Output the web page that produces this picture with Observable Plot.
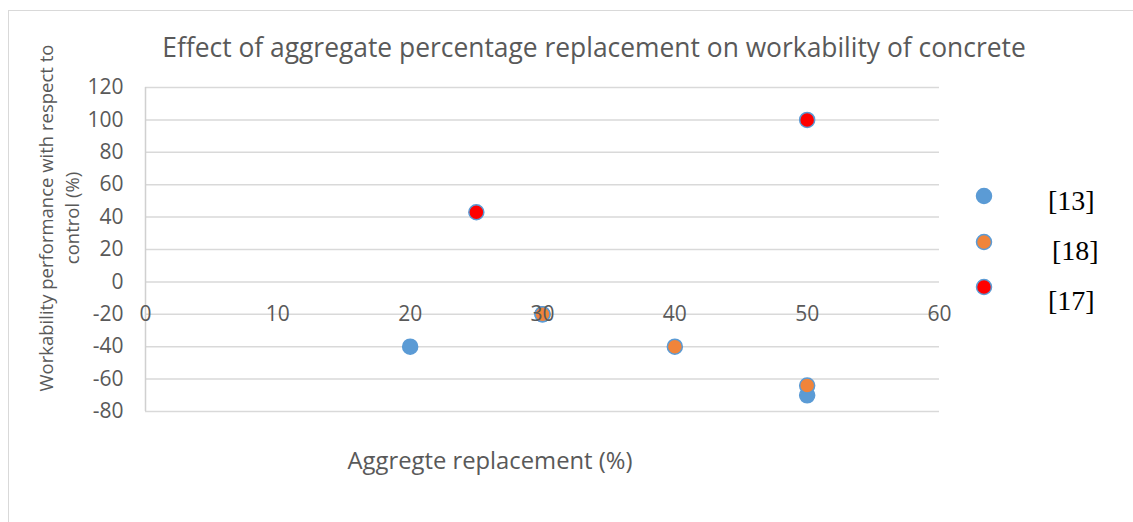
<!DOCTYPE html>
<html>
<head>
<meta charset="utf-8">
<script src="https://cdn.jsdelivr.net/npm/d3@7"></script>
<script src="https://cdn.jsdelivr.net/npm/@observablehq/plot@0.6"></script>
<style>
  html, body { margin: 0; padding: 0; background: #fff; }
  #wrap { position: relative; width: 1133px; height: 522px; overflow: hidden; font-family: "Open Sans", Lato, sans-serif; color: #595959; }
  #frame { position: absolute; left: 8px; top: 10px; width: 1200px; height: 600px; border-left: 1.5px solid #d9d9d9; border-top: 1.5px solid #d9d9d9; }
  .lbl { position: absolute; white-space: nowrap; transform: translate(-50%, -50%); }
  #title { left: 594px; top: 47px; font-size: 26.4px; }
  #xtitle { left: 490px; top: 460px; font-size: 23.8px; }
  #ytitle { left: 59px; top: 218px; font-size: 18.5px; text-align: center; line-height: 26px; transform: translate(-50%, -50%) rotate(-90deg); }
  .leg { position: absolute; font-family: "Liberation Serif", "Times New Roman", serif; font-size: 28px; color: #000; transform: translateY(-50%); white-space: nowrap; }
  .legdot { position: absolute; transform: translate(-50%, -50%); }
</style>
</head>
<body>
<div id="wrap">
  <div id="frame"></div>
  <div id="chart"></div>
  <div id="title" class="lbl">Effect of aggregate percentage replacement on workability of concrete</div>
  <div id="ytitle" class="lbl">Workability performance with respect to<br>control (%)</div>
  <div id="xtitle" class="lbl">Aggregte replacement (%)</div>
  <div id="legend"></div>
</div>
<script>
// ---- data ----
const seriesNames = ["[13]", "[18]", "[17]"];
const seriesColors = ["#5B9BD5", "#F0843A", "#FF0000"];
const s13x = [20, 30, 50];
const s13y = [-40, -20, -70];
const s18x = [30, 40, 50];
const s18y = [-20, -40, -64];
const s17x = [25, 50];
const s17y = [43, 100];
const xTicks = [0, 10, 20, 30, 40, 50, 60];
const yTicks = [-80, -60, -40, -20, 0, 20, 40, 60, 80, 100, 120];
const xAxisCrossY = -20; // value on y axis where the x labels sit

const pts = [];
[[s13x, s13y], [s18x, s18y], [s17x, s17y]].forEach(([xs, ys], i) => {
  xs.forEach((x, j) => pts.push({series: seriesNames[i], x, y: ys[j]}));
});

const chart = Plot.plot({
  width: 1133,
  height: 522,
  marginLeft: 145,
  marginRight: 194,
  marginTop: 87,
  marginBottom: 111,
  style: {background: "transparent", color: "#595959", fontFamily: "'Open Sans', Lato, sans-serif"},
  x: {domain: [0, 60], axis: null},
  y: {domain: [-80, 120], axis: null},
  color: {domain: seriesNames, range: seriesColors},
  marks: [
    Plot.ruleY(yTicks, {stroke: "#d9d9d9", strokeWidth: 1.5}),
    Plot.ruleX([0], {y1: -80, y2: 120, stroke: "#d0d0d0", strokeWidth: 1.5}),
    Plot.axisY(yTicks, {tickSize: 0, tickPadding: 22, fontSize: 21, label: null, tickFormat: d => String(d)}),
    Plot.dot(pts, {x: "x", y: "y", fill: "series", stroke: "#5B9BD5", strokeWidth: 1.5, r: 7.5}),
    Plot.text(xTicks, {x: d => d, y: () => xAxisCrossY, text: d => String(d), fontSize: 21, fill: "#595959"})
  ]
});
document.getElementById("chart").appendChild(chart);

// ---- legend ----
const legend = document.getElementById("legend");
const legY = [196, 242, 287];
const legTextY = [201, 251, 301];
const legTextX = [1048, 1052, 1048];
seriesNames.forEach((name, i) => {
  const s = document.createElementNS("http://www.w3.org/2000/svg", "svg");
  s.setAttribute("width", 20); s.setAttribute("height", 20);
  s.setAttribute("class", "legdot");
  s.style.left = "984px"; s.style.top = legY[i] + "px";
  const c = document.createElementNS("http://www.w3.org/2000/svg", "circle");
  c.setAttribute("cx", 10); c.setAttribute("cy", 10); c.setAttribute("r", 7.5);
  c.setAttribute("fill", seriesColors[i]); c.setAttribute("stroke", "#5B9BD5"); c.setAttribute("stroke-width", 1.5);
  s.appendChild(c);
  legend.appendChild(s);
  const t = document.createElement("div");
  t.className = "leg";
  t.textContent = name;
  t.style.left = legTextX[i] + "px"; t.style.top = legTextY[i] + "px";
  legend.appendChild(t);
});
</script>
</body>
</html>
